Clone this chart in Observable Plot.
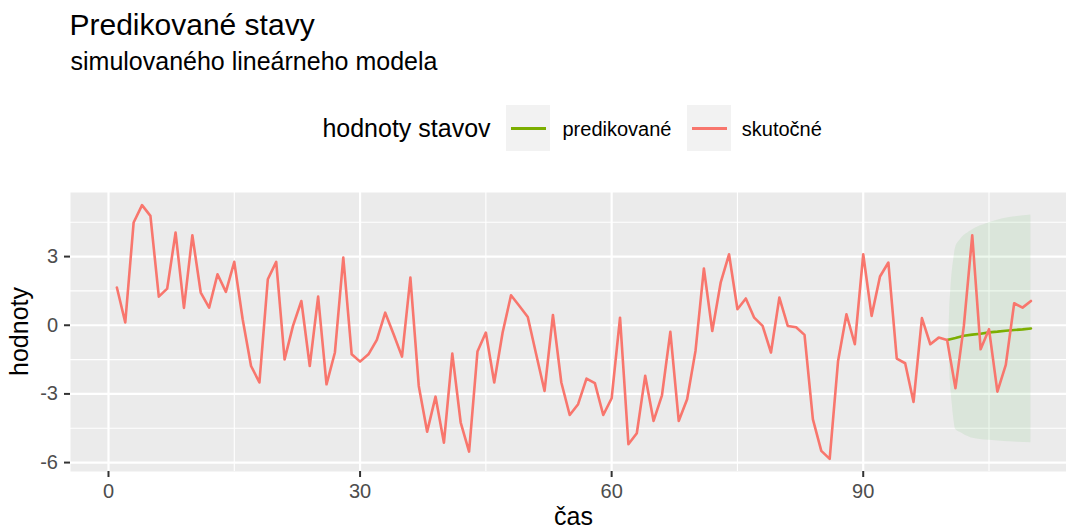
<!DOCTYPE html>
<html lang="sk">
<head>
<meta charset="utf-8">
<title>Predikované stavy</title>
<script src="https://cdn.jsdelivr.net/npm/d3@7"></script>
<script src="https://cdn.jsdelivr.net/npm/@observablehq/plot@0.6"></script>
<style>
  html, body { margin: 0; padding: 0; background: #ffffff; }
  body { font-family: "Liberation Sans", Arial, Helvetica, sans-serif; width: 1066px; height: 529px; overflow: hidden; }
  #header { position: relative; width: 1066px; height: 170px; color: #000; }
  #header div { position: absolute; white-space: nowrap; }
  .title { font-size: 30px; line-height: 30px; }
  .subtitle { font-size: 25px; line-height: 25px; }
  .legend-title { font-size: 25px; line-height: 25px; }
  .legend-key { background: #F2F2F2; }
  .legend-line { height: 2.7px; }
  .legend-label { font-size: 20px; line-height: 20px; }
  svg { display: block; }
</style>
</head>
<body>
<div id="header">
  <div class="title" style="left:69.5px; top:9.6px;">Predikované stavy</div>
  <div class="subtitle" style="left:70.5px; top:48.8px;">simulovaného lineárneho modela</div>
</div>
<script>
// Time steps and observed state values (skutočné)
const casSkutocne = d3.range(1, 111);
const hodnotySkutocne = [
  1.65, 0.12, 4.49, 5.25, 4.78, 1.25, 1.60, 4.05, 0.76, 3.93,
  1.43, 0.77, 2.23, 1.46, 2.77, 0.26, -1.78, -2.50, 2.01, 2.77,
  -1.49, -0.03, 1.06, -1.78, 1.25, -2.58, -1.19, 2.96, -1.27, -1.59,
  -1.27, -0.64, 0.55, -0.39, -1.37, 2.08, -2.65, -4.65, -3.12, -5.13,
  -1.24, -4.25, -5.52, -1.15, -0.32, -2.50, -0.32, 1.31, 0.84, 0.36,
  -1.27, -2.87, 0.45, -2.50, -3.92, -3.45, -2.33, -2.53, -3.92, -3.19,
  0.33, -5.20, -4.72, -2.21, -4.18, -3.06, -0.29, -4.18, -3.23, -1.12,
  2.48, -0.25, 1.86, 3.10, 0.70, 1.17, 0.33, -0.03, -1.19, 1.21,
  -0.03, -0.09, -0.42, -4.11, -5.49, -5.84, -1.56, 0.48, -0.83, 3.10,
  0.41, 2.13, 2.74, -1.46, -1.66, -3.35, 0.31, -0.83, -0.54, -0.64,
  -2.75, -0.03, 3.93, -1.05, -0.17, -2.90, -1.73, 0.96, 0.77, 1.06
];

// Predicted states (predikované)
const casPredikovane = [100, 101, 102, 103, 104, 105, 106, 107, 108, 109, 110];
const hodnotyPredikovane = [-0.64, -0.56, -0.46, -0.41, -0.37, -0.31, -0.28, -0.24, -0.21, -0.18, -0.14];

// Prediction interval band
const casPas = [100.2, 100.3, 100.45, 100.6, 100.8, 101, 101.6, 102.8, 105, 110];
const pasHorny = [-0.5, 0.6, 1.6, 2.3, 2.9, 3.38, 3.75, 4.12, 4.48, 4.82];
const pasDolny = [-0.8, -1.9, -2.8, -3.4, -4.1, -4.54, -4.69, -4.91, -5.03, -5.13];

// Axis ticks
const xTicks = [0, 30, 60, 90];
const xMinor = [15, 45, 75, 105];
const yTicks = [-6, -3, 0, 3];
const yMinor = [-4.5, -1.5, 1.5, 4.5];

// Legend entries
const legendTitle = "hodnoty stavov";
const seriesNames = ["predikované", "skutočné"];
const seriesColors = ["#7CAE00", "#F8766D"];

const skutocne = casSkutocne.map((t, i) => ({t, v: hodnotySkutocne[i]}));
const predikovane = casPredikovane.map((t, i) => ({t, v: hodnotyPredikovane[i]}));
const pas = casPas.map((t, i) => ({t, lo: pasDolny[i], hi: pasHorny[i]}));

// Legend above the chart
const header = document.getElementById("header");
function addDiv(cls, style, text) {
  const d = document.createElement("div");
  d.className = cls;
  d.setAttribute("style", style);
  if (text != null) d.textContent = text;
  header.appendChild(d);
  return d;
}
addDiv("legend-title", "left:322.4px; top:116px;", legendTitle);
const keyLeft = [506.2, 686.9];
const labelLeft = [562.5, 741.8];
seriesNames.forEach((name, i) => {
  addDiv("legend-key", `left:${keyLeft[i]}px; top:105.2px; width:44px; height:45.5px;`);
  addDiv("legend-line", `left:${keyLeft[i] + 4.8}px; top:${128.3 - 1.35}px; width:35px; background:${seriesColors[i]};`);
  addDiv("legend-label", `left:${labelLeft[i]}px; top:119.3px;`, name);
});

const W = 1066, H = 359;
const panelLeft = 70, panelTop = 22, panelBottom = 58;

const chart = Plot.plot({
  width: W,
  height: H,
  marginLeft: panelLeft,
  marginRight: 0,
  marginTop: panelTop,
  marginBottom: panelBottom,
  style: {fontFamily: "'Liberation Sans', Arial, Helvetica, sans-serif", fontSize: "20px", background: "white"},
  x: {domain: [-4.53, 114.24]},
  y: {domain: [-6.39, 5.80]},
  marks: [
    Plot.frame({fill: "#EBEBEB", stroke: "none"}),
    Plot.gridX(xMinor, {stroke: "white", strokeOpacity: 1, strokeWidth: 1.1}),
    Plot.gridY(yMinor, {stroke: "white", strokeOpacity: 1, strokeWidth: 1.1}),
    Plot.gridX(xTicks, {stroke: "white", strokeOpacity: 1, strokeWidth: 2.2}),
    Plot.gridY(yTicks, {stroke: "white", strokeOpacity: 1, strokeWidth: 2.2}),
    Plot.areaY(pas, {x: "t", y1: "lo", y2: "hi", fill: "rgb(0,150,0)", fillOpacity: 0.07, curve: "monotone-x"}),
    Plot.lineY(predikovane, {x: "t", y: "v", stroke: seriesColors[0], strokeWidth: 2.6, strokeLinejoin: "round"}),
    Plot.lineY(skutocne, {x: "t", y: "v", stroke: seriesColors[1], strokeWidth: 2.6, strokeLinejoin: "round"}),
    Plot.axisX({ticks: xTicks, tickFormat: d => String(d), tickSize: 6, tickPadding: 6.6, stroke: "#333333", strokeWidth: 2, fill: "#4D4D4D", fontSize: 20, label: null}),
    Plot.axisY({ticks: yTicks, tickFormat: d => String(d), tickSize: 6, tickPadding: 6.5, stroke: "#333333", strokeWidth: 2, fill: "#4D4D4D", fontSize: 20, label: null})
  ]
});
document.body.appendChild(chart);

// Axis titles
const svg = d3.select(chart);
const yScale = chart.scale("y");
const xScale = chart.scale("x");
const yMid = (yScale.range[0] + yScale.range[1]) / 2;
svg.append("text")
  .attr("transform", `translate(28.3, ${yMid}) rotate(-90)`)
  .attr("text-anchor", "middle")
  .attr("fill", "black")
  .style("font-size", "25px")
  .text("hodnoty");
svg.append("text")
  .attr("x", 573.5)
  .attr("y", H - 3.7)
  .attr("text-anchor", "middle")
  .attr("fill", "black")
  .style("font-size", "25px")
  .text("čas");
</script>
</body>
</html>
